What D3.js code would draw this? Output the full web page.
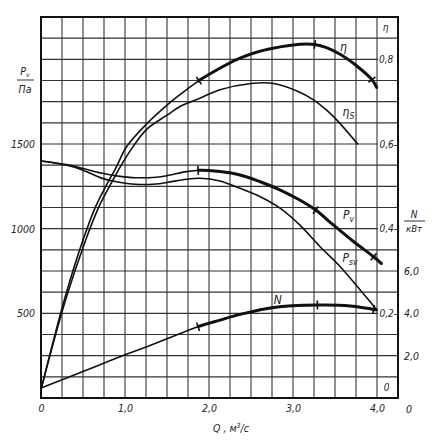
<!DOCTYPE html>
<html>
<head>
<meta charset="utf-8">
<script src="https://cdn.jsdelivr.net/npm/d3@7"></script>
<style>
  body { margin: 0; background: #fff; }
  text { font-family: "DejaVu Sans Condensed", "DejaVu Sans", sans-serif; font-style: italic; fill: #222; }
</style>
</head>
<body>
<script>
// ---- data (Q in m3/s) ----
const Q_TICKS = [0, 1, 2, 3, 4];
const P_TICKS = [500, 1000, 1500];
const ETA_TICKS = [0.2, 0.4, 0.6, 0.8];
const N_TICKS = [2, 4, 6];

// total pressure Pv, Pa
const pv = [[0,1400],[0.3,1378],[0.5,1355],[0.73,1327],[0.9,1312],[1.13,1301],[1.37,1304],[1.5,1313],[1.73,1337],[1.89,1345],[2.13,1337],[2.37,1317],[2.61,1277],[2.85,1228],[3.08,1169],[3.27,1110],[3.48,1022],[3.72,924],[3.96,834],[4.06,791]];
// static pressure Psv, Pa
const psv = [[0,1400],[0.3,1376],[0.5,1345],[0.73,1297],[0.9,1277],[1.13,1262],[1.37,1264],[1.5,1273],[1.73,1292],[1.89,1298],[2.13,1282],[2.37,1238],[2.61,1189],[2.85,1120],[3.08,1022],[3.32,895],[3.56,777],[3.80,638],[4.00,520]];
// efficiency eta
const eta = [[0,0.02],[0.285,0.237],[0.5,0.373],[0.65,0.452],[0.79,0.507],[0.89,0.543],[1.02,0.594],[1.26,0.648],[1.5,0.692],[1.65,0.716],[1.89,0.751],[2.13,0.779],[2.37,0.803],[2.73,0.825],[3.26,0.835],[3.56,0.812],[3.94,0.752],[4.0,0.732]];
// static efficiency eta_s
const etaS = [[0,0.02],[0.29,0.230],[0.53,0.372],[0.69,0.452],[0.83,0.505],[0.94,0.545],[1.09,0.592],[1.26,0.635],[1.5,0.668],[1.65,0.688],[1.89,0.708],[2.13,0.728],[2.5,0.743],[2.77,0.743],[3.04,0.726],[3.24,0.705],[3.40,0.68],[3.52,0.657],[3.77,0.600]];
// power N, kW
const power = [[0,0.47],[0.5,1.25],[1.0,2.04],[1.26,2.42],[1.87,3.37],[2.13,3.68],[2.37,3.95],[2.77,4.28],[3.29,4.39],[3.68,4.35],[4.0,4.16]];

const MARKS_ETA = [1.88, 3.26, 3.94];
const MARKS_PV = [1.87, 3.27, 3.96];
const MARKS_N = [1.87, 3.29, 3.96];
const THICK_FROM = 1.87;

// ---- scales ----
const L = 41, R = 398, T = 17, B = 398;
const x = d3.scaleLinear([0, 4.25], [L, R]);
const yP = d3.scaleLinear([0, 2250], [B, T]);
const yE = d3.scaleLinear([0, 0.9], [B, T]);
const yN = d3.scaleLinear([0, 18], [B, T]);
const fmt = d => d === 0 ? "0" : d3.format(".1f")(d).replace(".", ",");

const svg = d3.select("body").append("svg").attr("width", 439).attr("height", 445);

// grid
const g = svg.append("g");
g.selectAll(".vx").data(d3.range(1, 17).map(i => i * 0.25)).join("line")
  .attr("x1", d => x(d)).attr("x2", d => x(d)).attr("y1", T).attr("y2", B)
  .attr("stroke", "#333").attr("stroke-width", 1.1);
g.selectAll(".hy").data(d3.range(1, 18).map(i => i * 125)).join("line")
  .attr("y1", d => yP(d)).attr("y2", d => yP(d)).attr("x1", L).attr("x2", R)
  .attr("stroke", "#333").attr("stroke-width", 1.1);

// white backgrounds for eta labels in last column
ETA_TICKS.forEach(v => {
  g.append("rect").attr("x", x(4.0) + 1).attr("y", yE(v) - 5).attr("width", R - x(4.0) - 2).attr("height", 10).attr("fill", "#fff");
});

// curves
const clip = svg.append("clipPath").attr("id", "thick");
clip.append("rect").attr("x", x(THICK_FROM)).attr("y", 0).attr("width", 439).attr("height", 445);

function curve(data, ys, thick) {
  const line = d3.line().x(d => x(d[0])).y(d => ys(d[1])).curve(d3.curveCatmullRom.alpha(0.5));
  svg.append("path").attr("d", line(data)).attr("fill", "none").attr("stroke", "#111").attr("stroke-width", 1.6).attr("stroke-linecap", "round");
  if (thick) {
    svg.append("path").attr("d", line(data)).attr("fill", "none").attr("stroke", "#111").attr("stroke-width", 3).attr("clip-path", "url(#thick)");
  }
}
curve(psv, yP, false);
curve(pv, yP, true);
curve(etaS, yE, false);
curve(eta, yE, true);
curve(power, yN, true);

function interp(data, q) {
  for (let i = 1; i < data.length; i++) {
    if (q <= data[i][0]) {
      const a = data[i-1], b = data[i];
      const t = (q - a[0]) / (b[0] - a[0]);
      return a[1] + t * (b[1] - a[1]);
    }
  }
  return data[data.length - 1][1];
}
function marks(data, ys, qs) {
  qs.forEach(q => {
    const px = x(q), py = ys(interp(data, q));
    const dx = x(q + 0.04) - x(q - 0.04);
    const dy = ys(interp(data, q + 0.04)) - ys(interp(data, q - 0.04));
    const len = Math.hypot(dx, dy);
    const nx = -dy / len, ny = dx / len;
    svg.append("line").attr("x1", px - nx * 4.5).attr("y1", py - ny * 4.5)
      .attr("x2", px + nx * 4.5).attr("y2", py + ny * 4.5)
      .attr("stroke", "#111").attr("stroke-width", 1.6);
  });
}
marks(eta, yE, MARKS_ETA);
marks(pv, yP, MARKS_PV);
marks(power, yN, MARKS_N);

// frame
svg.append("rect").attr("x", L).attr("y", T).attr("width", R - L).attr("height", B - T)
  .attr("fill", "none").attr("stroke", "#111").attr("stroke-width", 2);

// axes
function styleAxis(sel) {
  sel.select(".domain").remove();
  sel.selectAll("text").attr("font-family", null).style("font-size", "10.5px").style("fill", "#222");
  sel.attr("font-family", null).attr("font-size", null);
}
svg.append("g").attr("transform", `translate(${L},0)`)
  .call(d3.axisLeft(yP).tickValues(P_TICKS).tickSize(0).tickPadding(6).tickFormat(d3.format("d")))
  .call(styleAxis);
svg.append("g").attr("transform", `translate(0,${B})`)
  .call(d3.axisBottom(x).tickValues(Q_TICKS).tickSize(0).tickPadding(7).tickFormat(fmt))
  .call(styleAxis);
svg.append("g").attr("transform", `translate(${R},0)`)
  .call(d3.axisRight(yN).tickValues(N_TICKS).tickSize(0).tickPadding(6).tickFormat(fmt))
  .call(styleAxis);

// eta labels
const etaG = svg.append("g");
ETA_TICKS.forEach(v => {
  const top = v === 0.8;
  etaG.append("text").attr("x", top ? x(4.0) + 2 : R - 1).attr("y", yE(v)).attr("dy", "0.35em")
    .attr("text-anchor", top ? "start" : "end").style("font-size", "10px")
    .text(fmt(v) + (top ? "" : "-"));
});
etaG.append("text").attr("x", (x(4.0) + R) / 2 - 1).attr("y", yE(0) - 11).attr("dy", "0.35em")
  .attr("text-anchor", "middle").style("font-size", "10px").text("0");
etaG.append("text").attr("x", (x(4.0) + R) / 2 - 2).attr("y", T + 10).attr("dy", "0.35em")
  .attr("text-anchor", "middle").style("font-size", "10px").text("η");

// N zero and unit
svg.append("text").attr("x", R + 11).attr("y", B + 11).attr("dy", "0.35em")
  .attr("text-anchor", "middle").style("font-size", "10.5px").text("0");
svg.append("text").attr("x", 414).attr("y", 214).attr("dy", "0.35em")
  .attr("text-anchor", "middle").style("font-size", "10px").text("N");
svg.append("line").attr("x1", 404).attr("x2", 425).attr("y1", 221).attr("y2", 221).attr("stroke", "#333").attr("stroke-width", 1);
svg.append("text").attr("x", 414).attr("y", 228.5).attr("dy", "0.35em")
  .attr("text-anchor", "middle").style("font-size", "9.5px").text("кВт");

// left unit
const pl = svg.append("text").attr("x", 25).attr("y", 71).attr("dy", "0.35em").attr("text-anchor", "middle").style("font-size", "10.5px");
pl.append("tspan").text("P");
pl.append("tspan").attr("dy", "2").style("font-size", "7px").text("v");
svg.append("line").attr("x1", 17).attr("x2", 34).attr("y1", 80).attr("y2", 80).attr("stroke", "#333").attr("stroke-width", 1);
svg.append("text").attr("x", 25).attr("y", 89).attr("dy", "0.35em").attr("text-anchor", "middle").style("font-size", "10.5px").text("Па");

// x title
const xt = svg.append("text").attr("x", 231).attr("y", 428).attr("dy", "0.35em").attr("text-anchor", "middle").style("font-size", "10.5px");
xt.append("tspan").text("Q , м");
xt.append("tspan").attr("dy", "-4").style("font-size", "7px").text("3");
xt.append("tspan").attr("dy", "4").text("/с");

// curve labels
function lab(q, yv, main, sub) {
  const t = svg.append("text").attr("x", x(q)).attr("y", yv).attr("dy", "0.35em")
    .attr("text-anchor", "middle").style("font-size", "12px");
  t.append("tspan").text(main);
  if (sub) t.append("tspan").attr("dy", "3").style("font-size", "8.5px").text(sub);
}
lab(3.6, yE(0.829), "η");
lab(3.66, yE(0.675), "η", "S");
lab(3.66, yP(1081), "P", "v");
lab(3.68, yP(827), "P", "sv");
lab(2.82, yN(4.63), "N");
</script>
</body>
</html>
